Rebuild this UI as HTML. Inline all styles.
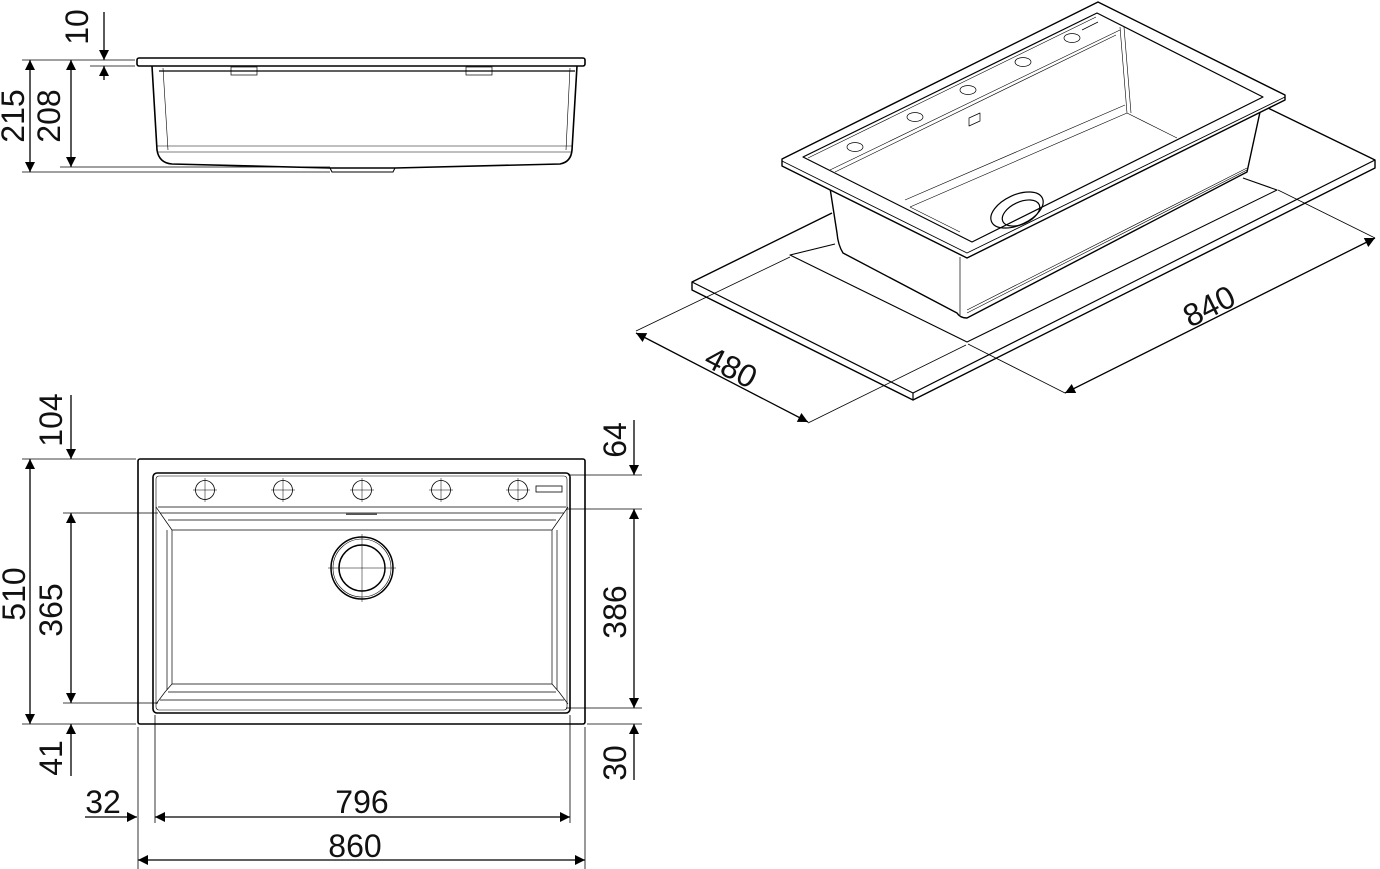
<!DOCTYPE html>
<html><head><meta charset="utf-8"><style>
html,body{margin:0;padding:0;background:#fff}
svg{display:block}
text{font-family:"Liberation Sans",Arial,sans-serif;fill:#111}
</style></head><body>
<svg width="1380" height="869" viewBox="0 0 1380 869" xmlns="http://www.w3.org/2000/svg">
<defs>
<marker id="a" viewBox="0 0 10 10" refX="10" refY="5" markerWidth="14" markerHeight="10" markerUnits="userSpaceOnUse" orient="auto-start-reverse"><path d="M0,0 L10,5 L0,10 z" fill="#000"/></marker>
</defs>
<g stroke="#000" fill="none">
<!-- SIDE VIEW -->
<rect x="137" y="58" width="448" height="8" rx="2" stroke-width="1.6"/>
<path d="M152,66 L157,150 Q159,163 172,164 L330,168 L395,168 L560,164 Q571,162 572,150 L577,66" stroke-width="1.6"/>
<path d="M163,68 L168,150 M570,68 L566,150 M157,146 L572,146 M158,152 L571,152" stroke-width="0.6"/>
<path d="M159,71 L575,71" stroke-width="1.2"/>
<path d="M330,168 L332,172 L393,172 L395,168" stroke-width="1"/>
<rect x="231" y="67" width="26" height="8" stroke-width="0.7"/>
<rect x="466" y="67" width="26" height="8" stroke-width="0.7"/>
<g stroke-width="0.8">
<line x1="22" y1="60" x2="135" y2="60"/>
<line x1="90" y1="66" x2="135" y2="66"/>
<line x1="22" y1="172" x2="330" y2="172"/>
<line x1="60" y1="167" x2="330" y2="167"/>
</g>
<g stroke-width="1.3">
<line x1="30" y1="60" x2="30" y2="172" marker-start="url(#a)" marker-end="url(#a)"/>
<line x1="71" y1="60" x2="71" y2="167" marker-start="url(#a)" marker-end="url(#a)"/>
<line x1="104" y1="12" x2="104" y2="60" marker-end="url(#a)"/>
<line x1="104" y1="80" x2="104" y2="66" marker-end="url(#a)"/>
</g>

<!-- PLAN VIEW -->
<rect x="138" y="459" width="447" height="265" rx="2" stroke-width="1.6"/>
<rect x="153" y="473" width="417" height="240" rx="4" stroke-width="1.6"/>
<rect x="156" y="476" width="411" height="234" rx="3" stroke-width="0.6"/>
<g stroke-width="0.7">
<line x1="158" y1="507" x2="566" y2="507"/>
<line x1="160" y1="513" x2="564" y2="513"/>
<line x1="168" y1="520" x2="556" y2="520"/>
<line x1="172" y1="530" x2="552" y2="530"/>
<line x1="172" y1="530" x2="172" y2="684"/>
<line x1="552" y1="530" x2="552" y2="684"/>
<line x1="167" y1="530" x2="167" y2="690"/>
<line x1="557" y1="530" x2="557" y2="690"/>
<line x1="172" y1="684" x2="552" y2="684"/>
<line x1="168" y1="692" x2="556" y2="692"/>
<line x1="160" y1="700" x2="564" y2="700"/>
<path d="M156,507 L165,520 L172,530 M568,507 L559,520 L552,530 M156,704 L165,692 L172,684 M568,704 L559,692 L552,684"/>
</g>
<line x1="346" y1="514" x2="377" y2="514" stroke-width="2" stroke="#555"/>
<g stroke-width="0.8">
<circle cx="205" cy="490" r="9.5"/><circle cx="283" cy="490" r="9.5"/><circle cx="362" cy="490" r="9.5"/><circle cx="441" cy="490" r="9.5"/><circle cx="518" cy="490" r="9.5"/>
<path d="M193,490h24M205,478v24M271,490h24M283,478v24M350,490h24M362,478v24M429,490h24M441,478v24M506,490h24M518,478v24" stroke-width="0.5"/>
<rect x="536" y="486" width="26" height="6"/>
</g>
<circle cx="362" cy="568" r="31" stroke-width="1.5"/>
<circle cx="362" cy="568" r="29" stroke-width="0.6"/>
<circle cx="362" cy="568" r="23" stroke-width="1.5"/>
<path d="M328,568h68M362,534v68" stroke-width="0.5"/>
<g stroke-width="0.8">
<line x1="22" y1="459" x2="136" y2="459"/>
<line x1="63" y1="513" x2="158" y2="513"/>
<line x1="63" y1="703" x2="158" y2="703"/>
<line x1="22" y1="724" x2="136" y2="724"/>
<line x1="568" y1="475" x2="642" y2="475"/>
<line x1="566" y1="509" x2="642" y2="509"/>
<line x1="566" y1="708" x2="642" y2="708"/>
<line x1="587" y1="724" x2="642" y2="724"/>
<line x1="138" y1="727" x2="138" y2="869"/>
<line x1="585" y1="727" x2="585" y2="869"/>
<line x1="155" y1="715" x2="155" y2="823"/>
<line x1="570" y1="715" x2="570" y2="823"/>
</g>
<g stroke-width="1.3">
<line x1="30" y1="459" x2="30" y2="724" marker-start="url(#a)" marker-end="url(#a)"/>
<line x1="71" y1="513" x2="71" y2="703" marker-start="url(#a)" marker-end="url(#a)"/>
<line x1="71" y1="395" x2="71" y2="459" marker-end="url(#a)"/>
<line x1="71" y1="776" x2="71" y2="724" marker-end="url(#a)"/>
<line x1="634" y1="420" x2="634" y2="475" marker-end="url(#a)"/>
<line x1="634" y1="509" x2="634" y2="708" marker-start="url(#a)" marker-end="url(#a)"/>
<line x1="634" y1="780" x2="634" y2="724" marker-end="url(#a)"/>
<line x1="85" y1="817" x2="137" y2="817" marker-end="url(#a)"/>
<line x1="155" y1="817" x2="570" y2="817" marker-start="url(#a)" marker-end="url(#a)"/>
<line x1="138" y1="860" x2="585" y2="860" marker-start="url(#a)" marker-end="url(#a)"/>
</g>

<!-- ISO VIEW -->
<g stroke-linejoin="round">
<!-- slab -->
<path d="M832,213 L692,282 L692,290 L913,400 L1375,168 L1375,160 L1268,108" stroke-width="1.4"/>
<path d="M692,282 L913,393 L1375,160" stroke-width="1.2"/>
<path d="M913,393 L913,400" stroke-width="1.2"/>
<!-- cutout -->
<path d="M835,244 L790,255 L967,342 L1277,190 L1243,178" stroke-width="1.1"/>
<!-- body -->
<path d="M830,188 L837,233 Q838,245 843,253 L957,313 Q960,318 967,318 L1247,172 L1260,112" stroke-width="1.4" fill="#fff"/>
<path d="M960,257 L960,315" stroke-width="0.7"/>
<path d="M967,310 L1247,168" stroke-width="0.6"/>
<path d="M967,313 L1247,170" stroke-width="0.6"/>
<!-- rim -->
<path d="M782,159 L1098,2 L1285,95 L1285,100 L967,258 L782,166 Z" fill="#fff" stroke-width="1.4"/>
<path d="M782,161 L967,253 L1285,97" stroke-width="0.9"/>
<path d="M803,157 L1097,13 L1263,97 L972,242 Z" stroke-width="1.2"/>
<path d="M808,158 L1096,17" stroke-width="0.6"/>
<!-- inner bowl -->
<g stroke-width="0.6">
<path d="M1120,27 L1127,113 L1177,138"/>
<path d="M1124,27 L1131,113"/>
<path d="M1127,113 L910,207"/>
<path d="M1125,105 L905,200"/>
<path d="M1120,30 L830,170"/>
<path d="M1116,35 L835,172"/>
<path d="M910,207 L960,232"/>
</g>
<ellipse cx="1017" cy="210" rx="28" ry="15" transform="rotate(-25 1017 210)" stroke-width="1.2"/>
<ellipse cx="1021" cy="213" rx="20" ry="11" transform="rotate(-25 1021 213)" stroke-width="1.2"/>
<g stroke-width="0.7">
<ellipse cx="855" cy="147" rx="8" ry="4.5"/>
<ellipse cx="915" cy="117" rx="8" ry="4.5"/>
<ellipse cx="968" cy="90" rx="8" ry="4.5"/>
<ellipse cx="1023" cy="62" rx="8" ry="4.5"/>
<ellipse cx="1072" cy="38" rx="8" ry="4.5"/>
<path d="M969,126 L969,118 L980,113 L980,121 Z"/>
<path d="M1082,30 L1098,22"/>
</g>
</g>
<g stroke="#000" stroke-width="0.8">
<line x1="636" y1="331" x2="790" y2="257"/>
<line x1="808" y1="423" x2="966" y2="345"/>
<line x1="1065" y1="393" x2="968" y2="344"/>
<line x1="1375" y1="238" x2="1278" y2="190"/>
</g>
<g stroke-width="1.3" stroke="#000">
<line x1="636" y1="333" x2="808" y2="422" marker-start="url(#a)" marker-end="url(#a)"/>
<line x1="1065" y1="393" x2="1375" y2="238" marker-start="url(#a)" marker-end="url(#a)"/>
</g>
</g>

<g font-size="32">
<text transform="translate(24,116) rotate(-90)" text-anchor="middle">215</text>
<text transform="translate(60,116) rotate(-90)" text-anchor="middle">208</text>
<text transform="translate(88,27) rotate(-90)" text-anchor="middle">10</text>
<text transform="translate(25,594) rotate(-90)" text-anchor="middle">510</text>
<text transform="translate(62,610) rotate(-90)" text-anchor="middle">365</text>
<text transform="translate(62,420) rotate(-90)" text-anchor="middle">104</text>
<text transform="translate(62,758) rotate(-90)" text-anchor="middle">41</text>
<text transform="translate(626,440) rotate(-90)" text-anchor="middle">64</text>
<text transform="translate(626,612) rotate(-90)" text-anchor="middle">386</text>
<text transform="translate(626,763) rotate(-90)" text-anchor="middle">30</text>
<text x="103" y="813" text-anchor="middle">32</text>
<text x="362" y="813" text-anchor="middle">796</text>
<text x="355" y="857" text-anchor="middle">860</text>
<text transform="translate(726,377) rotate(27.4)" text-anchor="middle">480</text>
<text transform="translate(1214,316) rotate(-26.6)" text-anchor="middle">840</text>
</g>
</svg>
</body></html>
